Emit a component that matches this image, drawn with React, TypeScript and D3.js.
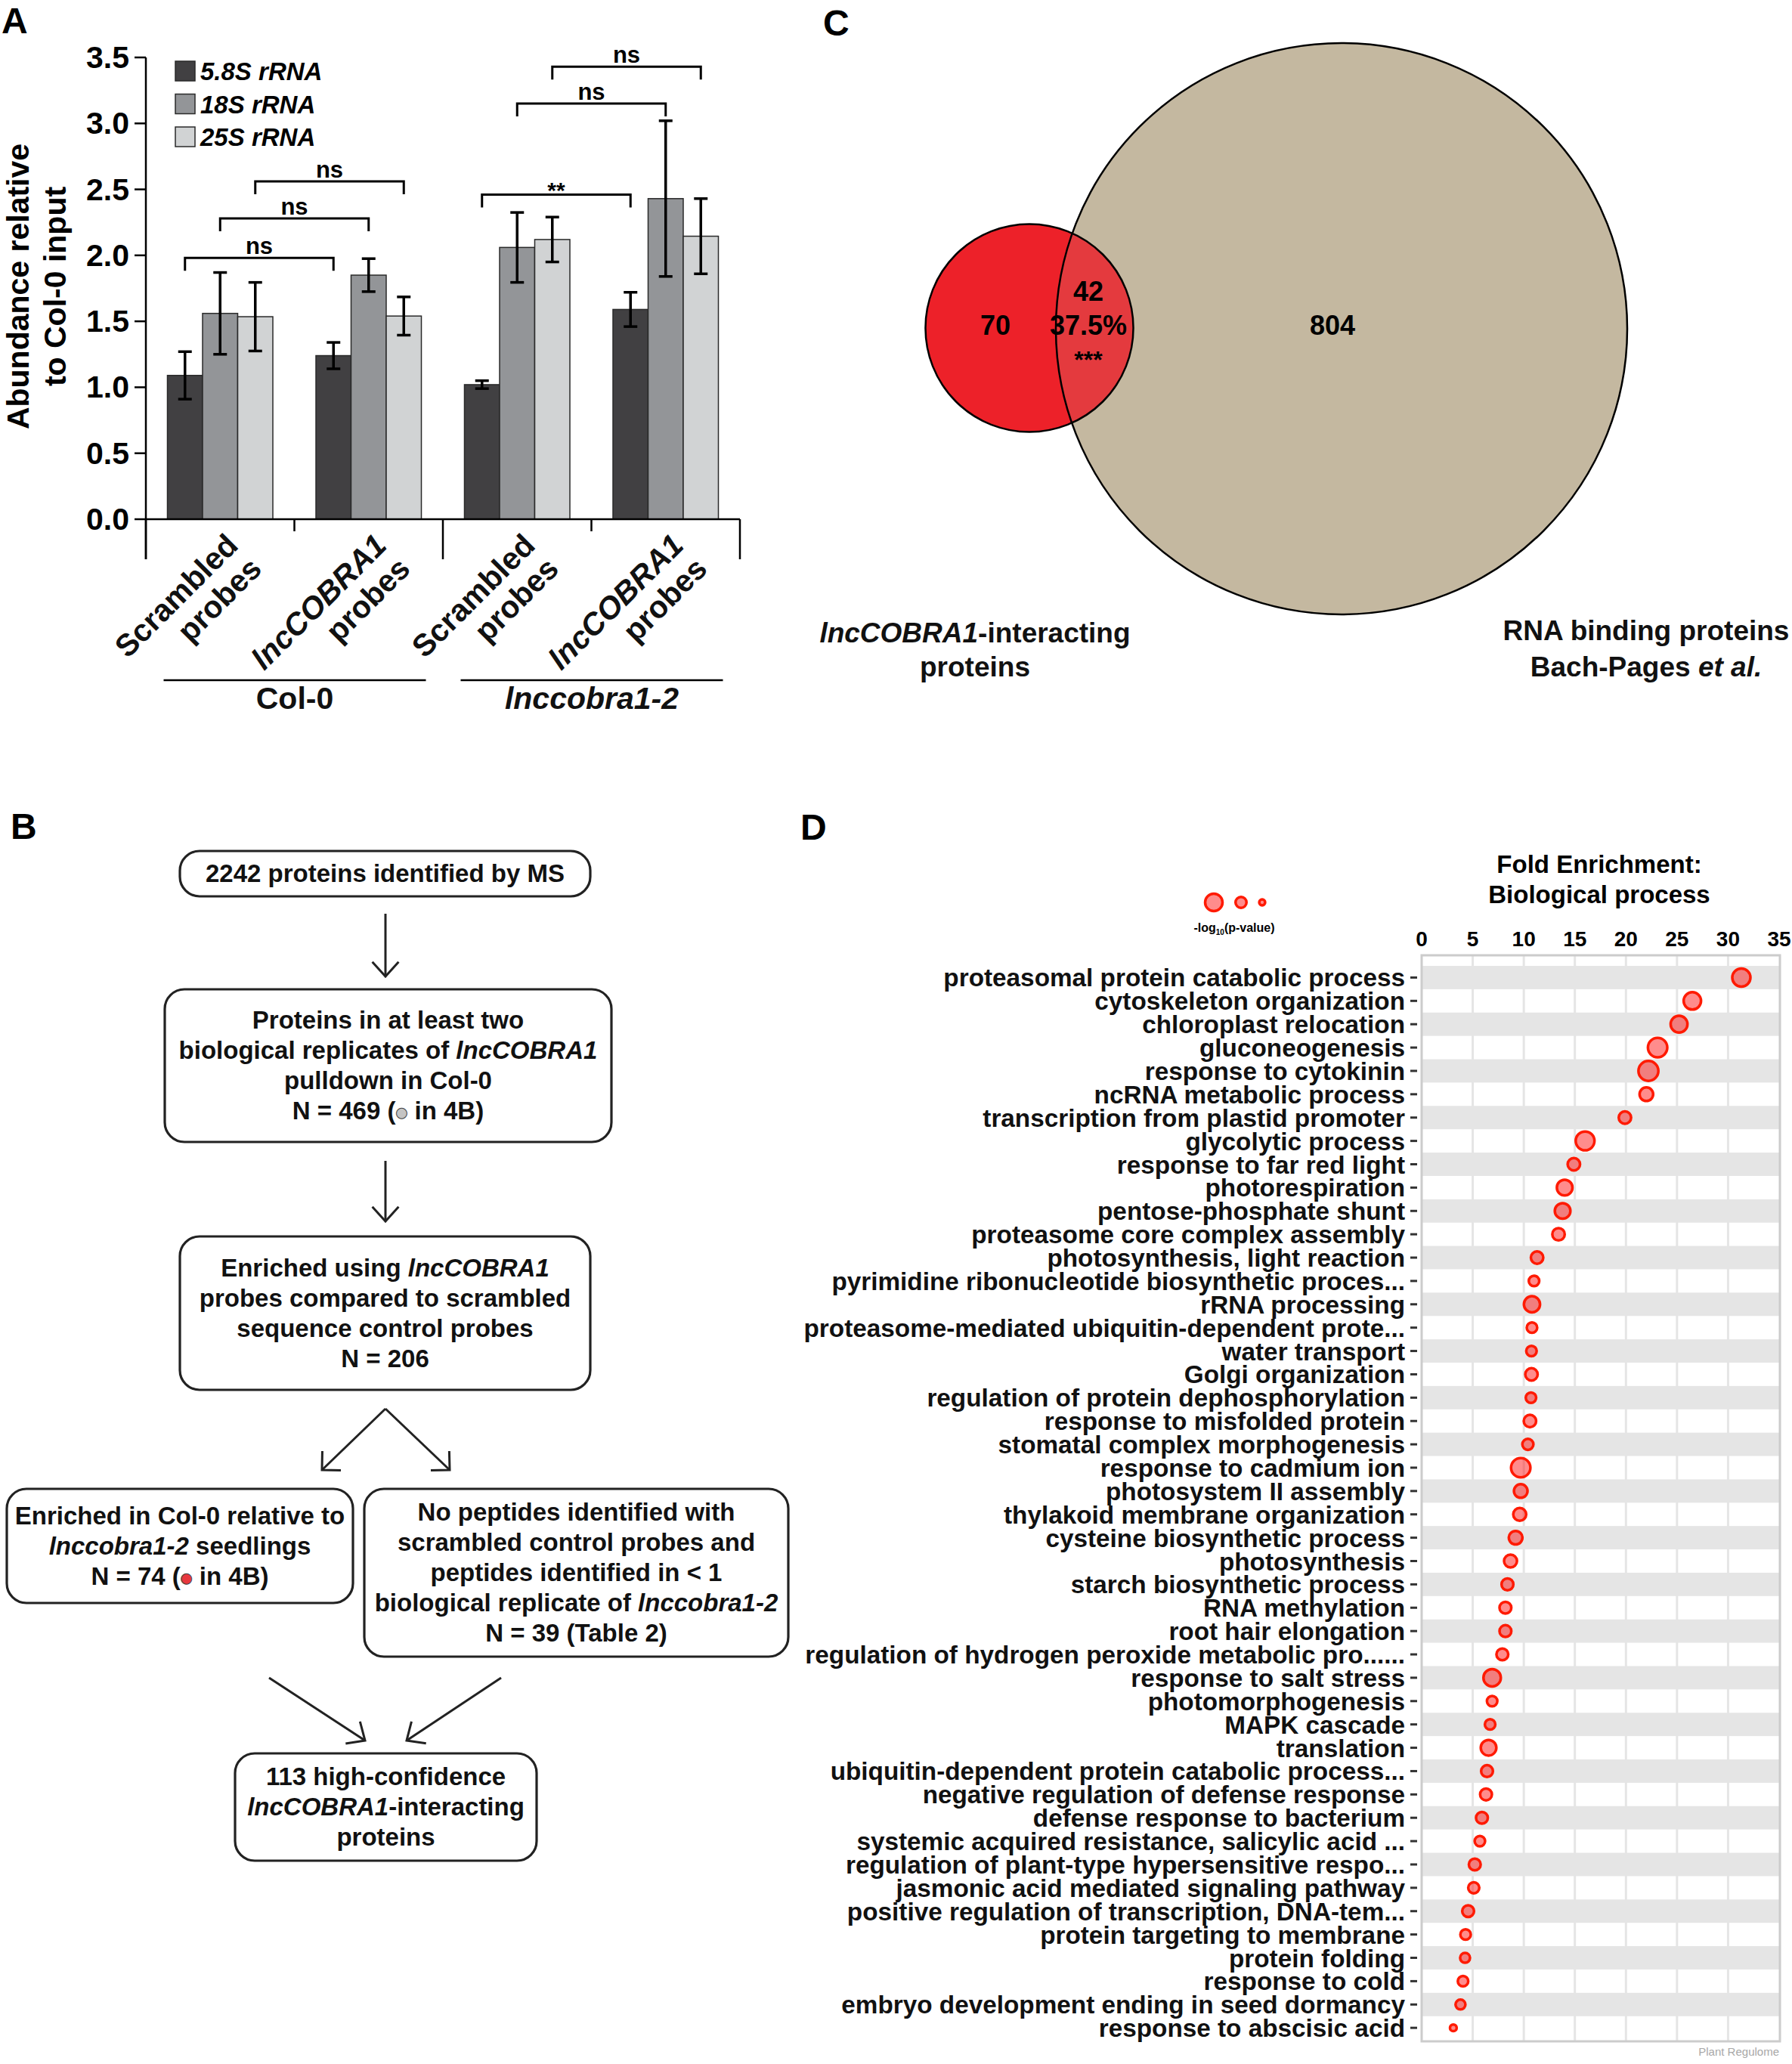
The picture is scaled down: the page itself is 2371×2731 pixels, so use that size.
import * as d3 from "d3";

const FONT = "'Liberation Sans', Arial, Helvetica, sans-serif";

// ---------- A: rRNA abundance in pulldowns ----------
const probeSets = ["Col-0 scrambled", "Col-0 lncCOBRA1", "lnccobra1-2 scrambled", "lnccobra1-2 lncCOBRA1"];
const probeLabels = [
	["Scrambled", "probes"],
	["_lncCOBRA1_", "probes"],
	["Scrambled", "probes"],
	["_lncCOBRA1_", "probes"],
];
const rrnaNames = ["5.8S rRNA", "18S rRNA", "25S rRNA"];
const rrnaColors = ["#414042", "#939598", "#d1d3d4"];
const mean58S = [1.09, 1.24, 1.02, 1.59];
const sd58S = [0.18, 0.1, 0.03, 0.13];
const mean18S = [1.56, 1.85, 2.06, 2.43];
const sd18S = [0.31, 0.125, 0.265, 0.59];
const mean25S = [1.535, 1.54, 2.12, 2.145];
const sd25S = [0.26, 0.145, 0.17, 0.285];
const abundanceTicks = [0, 0.5, 1, 1.5, 2, 2.5, 3, 3.5];
const genotypeNames = ["Col-0", "_lnccobra1-2_"];
const genotypeFrom = [0, 2];
const genotypeTo = [1, 3];
// significance brackets
const sigSeries = [0, 1, 2, 0, 1, 2];
const sigFrom = [0, 0, 0, 2, 2, 2];
const sigTo = [1, 1, 1, 3, 3, 3];
const sigLevel = [1.98, 2.28, 2.56, 2.46, 3.15, 3.43];
const sigText = ["ns", "ns", "ns", "**", "ns", "ns"];

// ---------- B: flowchart ----------
const flowText = [
	["2242 proteins identified by MS"],
	["Proteins in at least two", "biological replicates of _lncCOBRA1_", "pulldown in Col-0", "N = 469 ({g} in 4B)"],
	["Enriched using _lncCOBRA1_", "probes compared to scrambled", "sequence control probes", "N = 206"],
	["Enriched in Col-0 relative to", "_lnccobra1-2_ seedlings", "N = 74 ({r} in 4B)"],
	[
		"No peptides identified with",
		"scrambled control probes and",
		"peptides identified in < 1",
		"biological replicate of _lnccobra1-2_",
		"N = 39 (Table 2)",
	],
	["113 high-confidence", "_lncCOBRA1_-interacting", "proteins"],
];

// ---------- C: Venn ----------
const vennSets = ["_lncCOBRA1_-interacting|proteins", "RNA binding proteins|Bach-Pages _et al._"];
const vennOnlyA = 70;
const vennShared = 42;
const vennOnlyB = 804;
const vennSharePct = "37.5%";
const vennSig = "***";

// ---------- D: GO enrichment ----------
const goTerms = [
	"proteasomal protein catabolic process",
	"cytoskeleton organization",
	"chloroplast relocation",
	"gluconeogenesis",
	"response to cytokinin",
	"ncRNA metabolic process",
	"transcription from plastid promoter",
	"glycolytic process",
	"response to far red light",
	"photorespiration",
	"pentose-phosphate shunt",
	"proteasome core complex assembly",
	"photosynthesis, light reaction",
	"pyrimidine ribonucleotide biosynthetic proces...",
	"rRNA processing",
	"proteasome-mediated ubiquitin-dependent prote...",
	"water transport",
	"Golgi organization",
	"regulation of protein dephosphorylation",
	"response to misfolded protein",
	"stomatal complex morphogenesis",
	"response to cadmium ion",
	"photosystem II assembly",
	"thylakoid membrane organization",
	"cysteine biosynthetic process",
	"photosynthesis",
	"starch biosynthetic process",
	"RNA methylation",
	"root hair elongation",
	"regulation of hydrogen peroxide metabolic pro......",
	"response to salt stress",
	"photomorphogenesis",
	"MAPK cascade",
	"translation",
	"ubiquitin-dependent protein catabolic process...",
	"negative regulation of defense response",
	"defense response to bacterium",
	"systemic acquired resistance, salicylic acid ...",
	"regulation of plant-type hypersensitive respo...",
	"jasmonic acid mediated signaling pathway",
	"positive regulation of transcription, DNA-tem...",
	"protein targeting to membrane",
	"protein folding",
	"response to cold",
	"embryo development ending in seed dormancy",
	"response to abscisic acid",
];
const foldEnrichment = [
	31.3, 26.5, 25.2, 23.1, 22.2, 22.0, 19.9, 16.0, 14.9, 14.0, 13.8, 13.4, 11.3, 11.0, 10.8, 10.8, 10.75, 10.75,
	10.7, 10.6, 10.4, 9.7, 9.7, 9.6, 9.2, 8.7, 8.4, 8.2, 8.2, 7.9, 6.9, 6.9, 6.7, 6.55, 6.4, 6.3, 5.9, 5.7, 5.2, 5.1,
	4.55, 4.3, 4.25, 4.05, 3.8, 3.1,
];
const negLog10P = [
	11.8, 10.8, 10.1, 13.4, 14.2, 6.6, 5.5, 12.6, 5.5, 8.7, 8.7, 5.5, 5.5, 3.9, 9.3, 3.9, 3.9, 5.5, 3.9, 5.5, 4.4,
	13.4, 6.6, 6.0, 6.6, 6.0, 5.0, 5.0, 5.0, 5.0, 10.8, 3.9, 3.9, 8.7, 5.0, 5.0, 5.0, 3.9, 5.0, 4.4, 5.0, 3.9, 3.5,
	3.9, 3.5, 1.6,
];
const foldTicks = [0, 5, 10, 15, 20, 25, 30, 35];
const sizeLegend = [10.8, 4.3, 1.25];

// text with _italic_ runs and {g}/{r} dots
function Rich({ text, x, y, size, anchor = "middle" }: any) {
	const parts = text.split(/(_[^_]+_|\{[gr]\})/).filter((p: string) => p !== "");
	return (
		<text x={x} y={y} fontSize={size} fontWeight="bold" textAnchor={anchor} fontFamily={FONT} fill="#111">
			{parts.map((p: string, i: number) => {
				if (p.startsWith("_")) {
					return (
						<tspan key={i} fontStyle="italic">
							{p.slice(1, -1)}
						</tspan>
					);
				}
				if (p === "{g}" || p === "{r}") {
					return (
						<tspan
							key={i}
							fontSize={size * 0.55}
							fill={p === "{g}" ? "#c4c4c4" : "#e8383d"}
							stroke="#444"
							strokeWidth={1}
							dy={-3}
							fontFamily="'DejaVu Sans', sans-serif"
						>
							●
						</tspan>
					);
				}
				// undo the dot's raise on the run after it
				const prev = parts[i - 1];
				const shift = prev === "{g}" || prev === "{r}" ? 3 : undefined;
				return (
					<tspan key={i} dy={shift}>
						{p}
					</tspan>
				);
			})}
		</text>
	);
}

function PanelA() {
	const x = d3.scaleBand<number>().domain(d3.range(probeSets.length)).range([193, 979]).paddingInner(0.29).paddingOuter(0.145);
	const xs = d3.scaleBand<number>().domain(d3.range(rrnaNames.length)).range([0, x.bandwidth()]);
	const y = d3.scaleLinear().domain([0, 3.5]).range([687, 76]);
	const means = [mean58S, mean18S, mean25S];
	const sds = [sd58S, sd18S, sd25S];
	const step = x.step();
	const barCenter = (c: number, s: number) => (x(c) ?? 0) + (xs(s) ?? 0) + xs.bandwidth() / 2;

	return (
		<g fontFamily={FONT}>
			<text x={2} y={44} fontSize={48} fontWeight="bold">A</text>
			{/* y title */}
			<g transform="translate(38,379) rotate(-90)">
				<text textAnchor="middle" fontSize={41} fontWeight="bold">Abundance relative</text>
				<text y={49} textAnchor="middle" fontSize={41} fontWeight="bold">to Col-0 input</text>
			</g>
			{/* bars */}
			{probeSets.map((_, c) =>
				rrnaNames.map((_, s) => (
					<rect
						key={`${c}-${s}`}
						x={(x(c) ?? 0) + (xs(s) ?? 0)}
						y={y(means[s][c])}
						width={xs.bandwidth()}
						height={y(0) - y(means[s][c])}
						fill={rrnaColors[s]}
						stroke="#2a2a2a"
						strokeWidth={1.5}
					/>
				)),
			)}
			{/* error bars */}
			{probeSets.map((_, c) =>
				rrnaNames.map((_, s) => {
					const cx = barCenter(c, s);
					const hi = y(means[s][c] + sds[s][c]);
					const lo = y(means[s][c] - sds[s][c]);
					return (
						<g key={`e${c}-${s}`} stroke="#000" strokeWidth={3.5}>
							<line x1={cx} x2={cx} y1={hi} y2={lo} />
							<line x1={cx - 9} x2={cx + 9} y1={hi} y2={hi} />
							<line x1={cx - 9} x2={cx + 9} y1={lo} y2={lo} />
						</g>
					);
				}),
			)}
			{/* axes */}
			<line x1={193} x2={193} y1={y(3.5)} y2={740} stroke="#000" strokeWidth={2.5} />
			<line x1={193} x2={979} y1={y(0)} y2={y(0)} stroke="#000" strokeWidth={2.5} />
			{d3.range(probeSets.length + 1).map((i) => (
				<line
					key={`sep${i}`}
					x1={193 + i * step}
					x2={193 + i * step}
					y1={y(0)}
					y2={i % 2 === 0 ? 740 : 703}
					stroke="#000"
					strokeWidth={2.5}
				/>
			))}
			{abundanceTicks.map((t) => (
				<g key={`t${t}`}>
					<line x1={178} x2={193} y1={y(t)} y2={y(t)} stroke="#000" strokeWidth={2.5} />
					<text x={171} y={y(t) + 14} textAnchor="end" fontSize={41} fontWeight="bold">
						{d3.format(".1f")(t)}
					</text>
				</g>
			))}
			{/* legend */}
			{rrnaNames.map((n, s) => (
				<g key={n}>
					<rect x={232} y={81 + s * 43.5} width={26} height={26} fill={rrnaColors[s]} stroke="#2a2a2a" strokeWidth={1.5} />
					<text x={265} y={106 + s * 43.5} fontSize={33} fontWeight="bold" fontStyle="italic">
						{n}
					</text>
				</g>
			))}
			{/* significance */}
			{sigText.map((t, i) => {
				const x1 = barCenter(sigFrom[i], sigSeries[i]);
				const x2 = barCenter(sigTo[i], sigSeries[i]);
				const yb = y(sigLevel[i]);
				return (
					<g key={`sig${i}`}>
						<path d={`M${x1},${yb + 17}V${yb}H${x2}V${yb + 17}`} fill="none" stroke="#000" strokeWidth={3} />
						<text
							x={(x1 + x2) / 2}
							y={t === "**" ? yb + 4 : yb - 5}
							textAnchor="middle"
							fontSize={t === "**" ? 30 : 31}
							fontWeight="bold"
						>
							{t}
						</text>
					</g>
				);
			})}
			{/* x labels */}
			{probeLabels.map((lines, c) => (
				<g key={`xl${c}`} transform={`translate(${(x(c) ?? 0) + x.bandwidth() / 2 + 26},724) rotate(-45)`}>
					{lines.map((l, j) => (
						<Rich key={j} text={l} x={0} y={j * 44} size={41} anchor="end" />
					))}
				</g>
			))}
			{/* genotype groups */}
			{genotypeNames.map((g, i) => {
				const gx1 = (x(genotypeFrom[i]) ?? 0) - 5;
				const gx2 = (x(genotypeTo[i]) ?? 0) + x.bandwidth() + 6;
				return (
					<g key={g}>
						<line x1={gx1} x2={gx2} y1={900} y2={900} stroke="#000" strokeWidth={2.5} />
						<Rich text={g} x={(gx1 + gx2) / 2} y={938} size={41} />
					</g>
				);
			})}
		</g>
	);
}

function Arrow({ x1, y1, x2, y2, head = 26, angle = 42 }: any) {
	const a = Math.atan2(y1 - y2, x1 - x2);
	const t = (angle * Math.PI) / 180;
	const p1 = [x2 + head * Math.cos(a + t), y2 + head * Math.sin(a + t)];
	const p2 = [x2 + head * Math.cos(a - t), y2 + head * Math.sin(a - t)];
	return (
		<g stroke="#222" strokeWidth={3} fill="none">
			<line x1={x1} y1={y1} x2={x2} y2={y2} />
			<polyline points={`${p1[0]},${p1[1]} ${x2},${y2} ${p2[0]},${p2[1]}`} />
		</g>
	);
}

function PanelB() {
	const boxes = [
		{ x: 238, y: 1126, w: 543, h: 60 },
		{ x: 218, y: 1309, w: 591, h: 202 },
		{ x: 238, y: 1636, w: 543, h: 203 },
		{ x: 9, y: 1970, w: 458, h: 151 },
		{ x: 482, y: 1970, w: 561, h: 222 },
		{ x: 311, y: 2320, w: 399, h: 142 },
	];
	return (
		<g fontFamily={FONT}>
			<text x={14} y={1110} fontSize={48} fontWeight="bold">B</text>
			{boxes.map((b, i) => {
				const lines = flowText[i];
				const cy = b.y + b.h / 2;
				const first = cy - ((lines.length - 1) * 40) / 2 + 11;
				return (
					<g key={i}>
						<rect x={b.x} y={b.y} width={b.w} height={b.h} rx={26} fill="#fff" stroke="#222" strokeWidth={3.2} />
						{lines.map((l, j) => (
							<Rich key={j} text={l} x={b.x + b.w / 2} y={first + j * 40} size={33} />
						))}
					</g>
				);
			})}
			<Arrow x1={510} y1={1209} x2={510} y2={1292} />
			<Arrow x1={510} y1={1536} x2={510} y2={1616} />
			<Arrow x1={510} y1={1864} x2={426} y2={1945} angle={45} head={25} />
			<Arrow x1={510} y1={1864} x2={595} y2={1945} angle={45} head={25} />
			<Arrow x1={356} y1={2220} x2={483} y2={2303} />
			<Arrow x1={663} y1={2220} x2={538} y2={2303} />
		</g>
	);
}

function PanelC() {
	const r = d3.scaleSqrt().domain([0, vennOnlyB + vennShared]).range([0, 378]);
	const rA = r(vennOnlyA + vennShared);
	const rB = r(vennOnlyB + vennShared);
	const a = { x: 1362, y: 434 };
	const b = { x: 1775, y: 435 };
	const [labA1, labA2] = vennSets[0].split("|");
	const [labB1, labB2] = vennSets[1].split("|");
	return (
		<g fontFamily={FONT}>
			<text x={1089} y={47} fontSize={48} fontWeight="bold">C</text>
			<defs>
				<clipPath id="clipB">
					<circle cx={b.x} cy={b.y} r={rB} />
				</clipPath>
			</defs>
			<circle cx={b.x} cy={b.y} r={rB} fill="#c4b8a0" />
			<circle cx={a.x} cy={a.y} r={rA} fill="#ed2129" />
			<circle cx={a.x} cy={a.y} r={rA} fill="#e43a3e" clipPath="url(#clipB)" />
			<circle cx={b.x} cy={b.y} r={rB} fill="none" stroke="#000" strokeWidth={2.5} />
			<circle cx={a.x} cy={a.y} r={rA} fill="none" stroke="#000" strokeWidth={2.5} />
			<text x={1317} y={443} textAnchor="middle" fontSize={36} fontWeight="bold">{vennOnlyA}</text>
			<text x={1440} y={398} textAnchor="middle" fontSize={36} fontWeight="bold">{vennShared}</text>
			<text x={1440} y={443} textAnchor="middle" fontSize={36} fontWeight="bold">{vennSharePct}</text>
			<text x={1440} y={487} textAnchor="middle" fontSize={32} fontWeight="bold">{vennSig}</text>
			<text x={1763} y={443} textAnchor="middle" fontSize={36} fontWeight="bold">{vennOnlyB}</text>
			<Rich text={labA1} x={1290} y={850} size={37} />
			<Rich text={labA2} x={1290} y={895} size={37} />
			<Rich text={labB1} x={2178} y={847} size={37} />
			<Rich text={labB2} x={2178} y={895} size={37} />
		</g>
	);
}

function PanelD() {
	const left = 1881;
	const right = 2355;
	const top = 1264;
	const bottom = 2701;
	const x = d3.scaleLinear().domain([0, 35]).range([left, 2354]);
	const y = d3.scaleBand().domain(goTerms).range([1278, 2698.6]);
	const size = d3.scaleSqrt().domain([0, 16]).range([0, 14]);
	const bw = y.bandwidth();
	return (
		<g fontFamily={FONT}>
			<text x={1059} y={1111} fontSize={48} fontWeight="bold">D</text>
			<text x={2116} y={1155} textAnchor="middle" fontSize={33} fontWeight="bold">Fold Enrichment:</text>
			<text x={2116} y={1195} textAnchor="middle" fontSize={33} fontWeight="bold">Biological process</text>
			{/* size legend */}
			{sizeLegend.map((v, i) => (
				<circle
					key={v}
					cx={[1606, 1642, 1670][i]}
					cy={1194}
					r={size(v)}
					fill="rgba(255,0,0,0.45)"
					stroke="#ff1a00"
					strokeWidth={3.5}
				/>
			))}
			<text x={1633} y={1233} textAnchor="middle" fontSize={16} fontWeight="bold">
				-log<tspan fontSize={10} dy={4}>10</tspan>
				<tspan dy={-4}>(p-value)</tspan>
			</text>
			{/* panel */}
			<rect x={left} y={top} width={right - left} height={bottom - top} fill="#fff" />
			{foldTicks.slice(1, -1).map((t) => (
				<line key={`g${t}`} x1={x(t)} x2={x(t)} y1={top} y2={bottom} stroke="#e5e5e5" strokeWidth={3} />
			))}
			{goTerms.map((t, i) =>
				i % 2 === 0 ? <rect key={`s${i}`} x={left} y={y(t)} width={right - left} height={bw} fill="#e5e5e5" /> : null,
			)}
			<rect x={left} y={top} width={right - left} height={bottom - top} fill="none" stroke="#cccccc" strokeWidth={3} />
			{foldTicks.map((t) => (
				<text key={`xt${t}`} x={x(t)} y={1252} textAnchor="middle" fontSize={28} fontWeight="bold">
					{t}
				</text>
			))}
			{goTerms.map((t, i) => {
				const cy = (y(t) ?? 0) + bw / 2;
				return (
					<g key={t}>
						<line x1={1866} x2={1875} y1={cy} y2={cy} stroke="#333" strokeWidth={3} />
						<text x={1859} y={cy + 12} textAnchor="end" fontSize={33.3} fontWeight="bold" fill="#111">
							{t}
						</text>
						<circle
							cx={x(foldEnrichment[i])}
							cy={cy}
							r={size(negLog10P[i])}
							fill="rgba(255,0,0,0.45)"
							stroke="#ff1a00"
							strokeWidth={3.5}
						/>
					</g>
				);
			})}
			<text x={2354} y={2720} textAnchor="end" fontSize={15} fill="#a8a8a8">Plant Regulome</text>
		</g>
	);
}

export default function App() {
	return (
		<svg
			width={2371}
			height={2731}
			viewBox="0 0 2371 2731"
			style={{ position: "absolute", left: 0, top: 0, background: "#fff", display: "block" }}
		>
			<rect width={2371} height={2731} fill="#fff" />
			<PanelA />
			<PanelB />
			<PanelC />
			<PanelD />
		</svg>
	);
}
